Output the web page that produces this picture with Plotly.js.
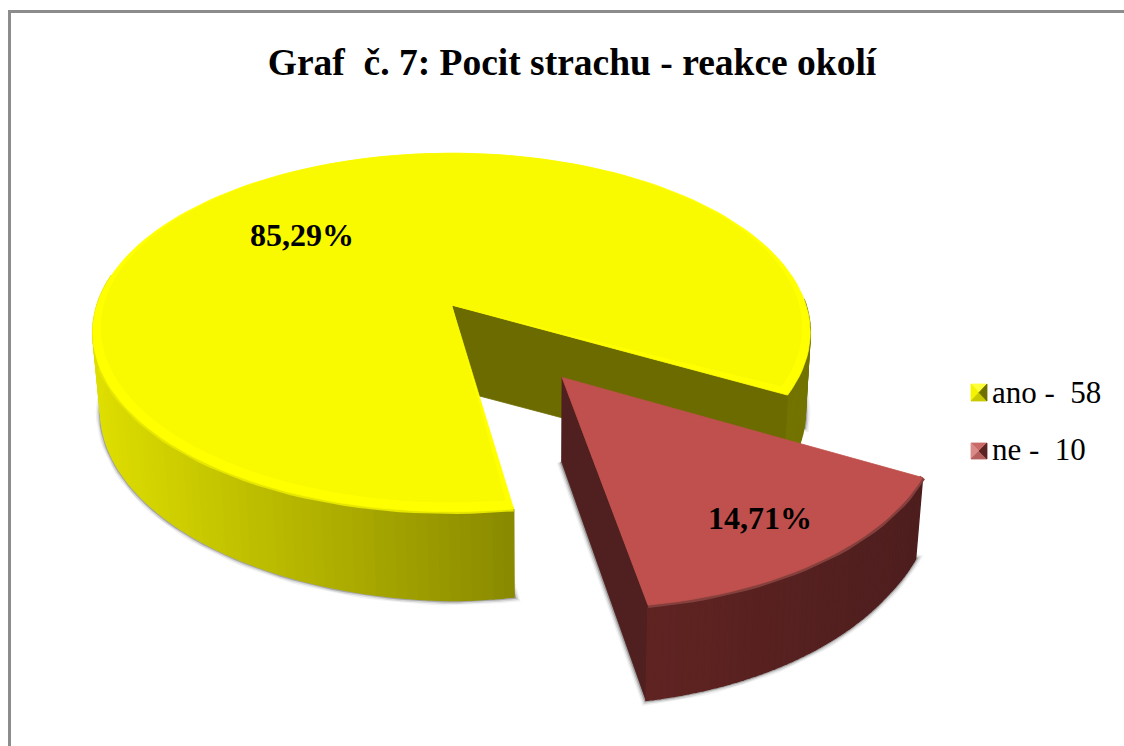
<!DOCTYPE html>
<html><head><meta charset="utf-8">
<script src="https://cdn.plot.ly/plotly-3.0.1.min.js"></script>
<style>html,body{margin:0;padding:0;background:#fff}#c{width:1124px;height:746px}</style>
</head><body><div id="c"></div>
<script>
const categories = ['ano', 'ne'];
const values = [58, 10];
const percentLabels = ['85,29%', '14,71%'];
const topColors = ['#f9f900', '#c0504d'];
const rimColors = ['#ffff00', '#c0504d'];
const swatchYellow = ['#ffff3a', '#f4f400', '#c9c900', '#6f6f00'];
const swatchRed = ['#c96a68', '#d98a88', '#b5605e', '#5a2423'];

const total = values[0] + values[1];
const sweepNe = values[1] / total * 360;
const neStart = 28.5;               // rotation of the pie, degrees clockwise from east
const neEnd = neStart + sweepNe;
const neMid = (neStart + neEnd) / 2;
const explode = 0.49, neR = 0.98;
const rad = d => d * Math.PI / 180;

// projection of the tilted disc to the page (perspective)
const cx = 451.5, cy = 305, A = 354.5, B = 175, K = 0.153;
function proj(u, v, low) {
  const w = 1 - K * v;
  let x = cx + A * u / w, y = cy + B * v / w;
  if (low) {
    y += 84 + 5 * v + 20 * Math.max(0, v - 1) - 6 * Math.abs(u);
    x += -0.018 * (x - 536);
  }
  return [x, y];
}
function arcPts(a0, a1, ox, oy, low, r) {
  const out = [], n = Math.max(2, Math.ceil(Math.abs(a1 - a0) / 2));
  for (let i = 0; i <= n; i++) {
    const a = rad(a0 + (a1 - a0) * i / n);
    out.push(proj(ox + r * Math.cos(a), oy + r * Math.sin(a), low));
  }
  return out;
}
function poly(pts, color, lw) {
  return {
    type: 'scatter', mode: 'lines', x: pts.map(p => p[0]).concat([pts[0][0]]),
    y: pts.map(p => p[1]).concat([pts[0][1]]), fill: 'toself', fillcolor: color,
    line: {color: color, width: lw === undefined ? 0.8 : lw}, hoverinfo: 'skip', showlegend: false
  };
}
function stroke(pts, color, width) {
  return {
    type: 'scatter', mode: 'lines', x: pts.map(p => p[0]), y: pts.map(p => p[1]),
    line: {color: color, width: width}, hoverinfo: 'skip', showlegend: false
  };
}
function lerp(a, b, t) { return a + (b - a) * t; }
function yellowWall(x) {
  const t = Math.min(1, Math.max(0, (x - 95) / (515 - 95)));
  const g = Math.round(lerp(222, 138, t));
  return 'rgb(' + g + ',' + g + ',0)';
}
function redWall(x) {
  const t = Math.min(1, Math.max(0, (x - 645) / (920 - 645)));
  return 'rgb(' + Math.round(lerp(96, 78, t)) + ',' + Math.round(lerp(36, 30, t)) + ',' + Math.round(lerp(34, 30, t)) + ')';
}

const traces = [];
const oxN = explode * Math.cos(rad(neMid)) + 0.012, oyN = explode * Math.sin(rad(neMid)) - 0.012;

// soft shadows from the lower faces
function shadow(a0, a1, ox, oy, r) {
  const apex = proj(ox, oy, true);
  const low = [apex].concat(arcPts(a0, a1, ox, oy, true, r)).concat([apex]);
  [[10, 'rgba(120,120,120,0.10)'], [7, 'rgba(120,120,120,0.22)'], [4, 'rgba(125,125,125,0.55)']]
    .forEach(s => traces.push(stroke(low, s[1], s[0])));
}
shadow(neEnd, neStart + 345, 0, 0, 1);
shadow(neStart, neEnd, oxN, oyN, neR);

// yellow: cut wall, outer wall strips, bevel, top
const ya = Math.cos(rad(neStart)), yb = Math.sin(rad(neStart));
for (let a = -2; a < neStart; a += 1.5) {
  const b = Math.min(a + 1.5, neStart);
  const t = arcPts(a, b, 0, 0, false, 1), l = arcPts(a, b, 0, 0, true, 1);
  traces.push(poly(t.concat(l.reverse()), '#737300', 1.5));
}
traces.push(poly([proj(0, 0, false), proj(ya, yb, false), proj(ya, yb, true), proj(0, 0, true)], '#6b6b00'));
for (let a = neEnd; a < 190; a += 1.5) {
  const b = Math.min(a + 1.5, 190);
  const t = arcPts(a, b, 0, 0, false, 1), l = arcPts(a, b, 0, 0, true, 1);
  traces.push(poly(t.concat(l.reverse()), yellowWall(t[0][0]), 1.5));
}
traces.push(stroke(arcPts(neEnd, 160, 0, 0, false, 1), '#e6e600', 5));
traces.push(poly([proj(0, 0, false)].concat(arcPts(neEnd, neStart + 360, 0, 0, false, 1)), rimColors[0]));
traces.push(poly([proj(0, 0, false)].concat(arcPts(neEnd + 1, neStart + 359, 0, -0.02, false, 0.98)), topColors[0]));

// red: side wall, outer wall strips, bevel, top
const ra = neR * Math.cos(rad(neEnd)), rb = neR * Math.sin(rad(neEnd));
traces.push(poly([proj(oxN, oyN, false), proj(oxN + ra, oyN + rb, false), proj(oxN + ra, oyN + rb, true), proj(oxN, oyN, true)], '#501f1f'));
for (let a = neStart; a < neEnd; a += 1) {
  const b = Math.min(a + 1, neEnd);
  const t = arcPts(a, b, oxN, oyN, false, neR), l = arcPts(a, b, oxN, oyN, true, neR);
  traces.push(poly(t.concat(l.reverse()), redWall(t[0][0]), 1.5));
}
traces.push(stroke(arcPts(neStart, neEnd, oxN, oyN, false, neR), '#85403d', 6));
traces.push(poly([proj(oxN, oyN, false)].concat(arcPts(neStart, neEnd, oxN, oyN, false, neR)), topColors[1]));

// legend swatches: four shaded facets
function swatch(x0, y0, x1, y1, c) {
  const m = [(x0 + x1) / 2, (y0 + y1) / 2];
  traces.push(poly([[x0, y0], [x1, y0], m], c[0]));
  traces.push(poly([[x0, y0], [x0, y1], m], c[1]));
  traces.push(poly([[x0, y1], [x1, y1], m], c[2]));
  traces.push(poly([[x1, y0], [x1, y1], m], c[3]));
}
swatch(971, 384, 987, 401, swatchYellow);
swatch(971, 443, 987, 459, swatchRed);

// legend entries (text; the facets above are the keys)
categories.forEach((c, i) => traces.push({
  type: 'scatter', mode: 'markers', x: [null], y: [null],
  name: c + ' -\u00a0\u00a0' + values[i], legendgroup: c,
  marker: {symbol: 'square', size: 16, color: 'rgba(0,0,0,0)', line: {width: 0, color: 'rgba(0,0,0,0)'}},
  hoverinfo: 'skip', showlegend: true
}));

const serif = '"Liberation Serif", "Times New Roman", serif';
const layout = {
  width: 1124, height: 746, margin: {l: 0, r: 0, t: 0, b: 0},
  paper_bgcolor: '#ffffff', plot_bgcolor: 'rgba(0,0,0,0)',
  xaxis: {range: [0, 1124], visible: false, fixedrange: true},
  yaxis: {range: [746, 0], visible: false, fixedrange: true},
  title: {text: '<b>Graf  č. 7: Pocit strachu - reakce okolí</b>', x: 572 / 1124, xanchor: 'center',
          y: 1 - 62 / 746, yanchor: 'middle', font: {family: serif, size: 37.5, color: '#000'}},
  legend: {x: 952 / 1124, y: 1 - 364 / 746, xanchor: 'left', yanchor: 'top', tracegroupgap: 14,
           itemwidth: 30, bgcolor: 'rgba(0,0,0,0)', font: {family: serif, size: 31, color: '#000'}},
  shapes: [
    {type: 'line', xref: 'paper', yref: 'paper', x0: 9.5 / 1124, x1: 1, y0: 1 - 11.5 / 746, y1: 1 - 11.5 / 746, line: {color: '#8c8c8c', width: 3}},
    {type: 'line', xref: 'paper', yref: 'paper', x0: 9.5 / 1124, x1: 9.5 / 1124, y0: 1 - 10 / 746, y1: 0, line: {color: '#8c8c8c', width: 3}}
  ],
  annotations: [
    {x: 302, y: 235, text: '<b>' + percentLabels[0] + '</b>', showarrow: false, xanchor: 'center', yanchor: 'middle', font: {family: serif, size: 32, color: '#000'}},
    {x: 760, y: 518, text: '<b>' + percentLabels[1] + '</b>', showarrow: false, xanchor: 'center', yanchor: 'middle', font: {family: serif, size: 32, color: '#000'}}
  ]
};
Plotly.newPlot('c', traces, layout, {displayModeBar: false, staticPlot: true});
</script></body></html>
